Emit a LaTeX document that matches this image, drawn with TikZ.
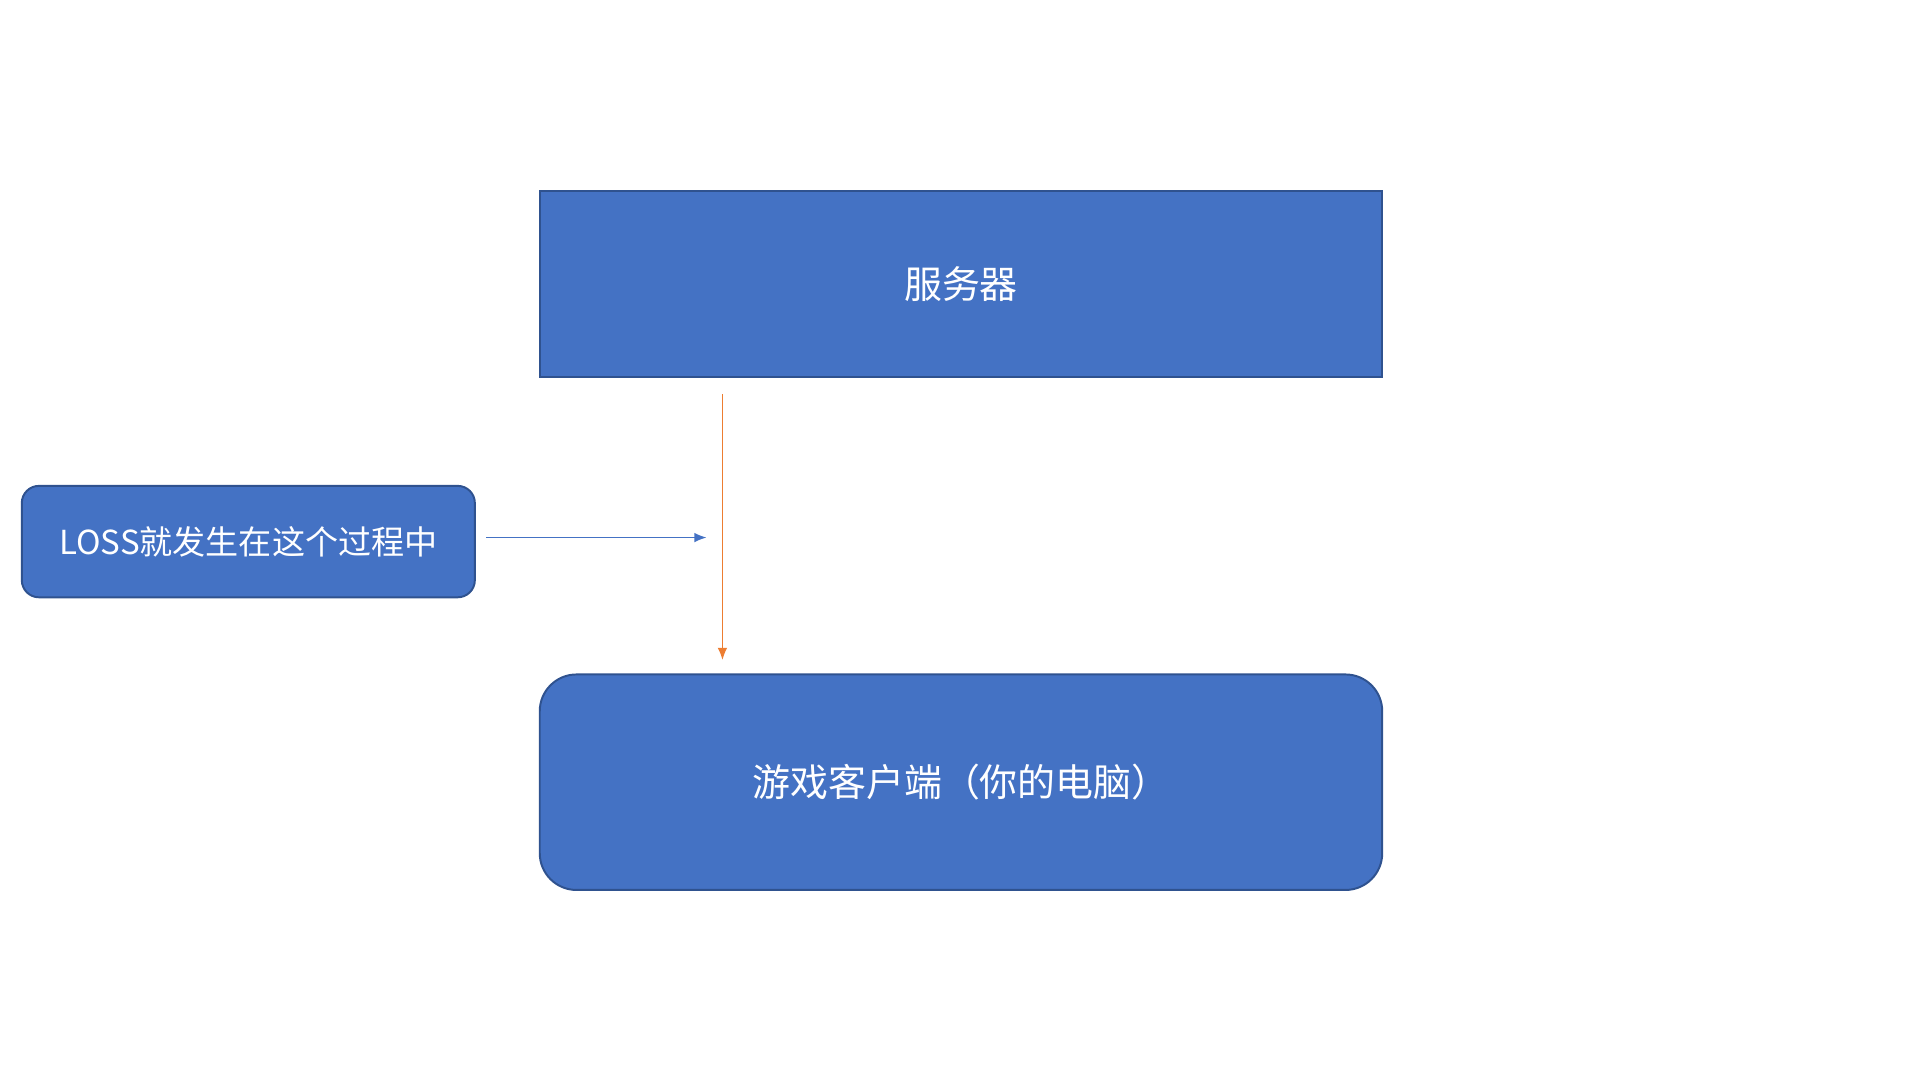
\documentclass[tikz,border=0pt]{standalone}
\usepackage{fontspec}
\setmainfont{Noto Sans CJK SC}
\definecolor{boxfill}{HTML}{4472C4}
\definecolor{boxline}{HTML}{2F528F}
\definecolor{orangeline}{HTML}{ED7D31}
\begin{document}
\begin{tikzpicture}[x=0.5pt,y=-0.5pt,
  blk/.style={draw=boxline,fill=boxfill,line width=0.8pt,text=white,inner sep=0pt,anchor=north west},
  arr/.style={-{Latex[length=5pt,width=4pt]},line width=0.6pt}]
\usetikzlibrary{arrows.meta}
\useasboundingbox (0,0) rectangle (1568,882);
\node[blk,minimum width=344pt,minimum height=76pt,font=\fontsize{15.5}{18}\selectfont] (srv) at (440,155) {服务器};
\node[blk,rounded corners=15pt,minimum width=344pt,minimum height=88pt,font=\fontsize{15.5}{18}\selectfont] (cli) at (440,550) {游戏客户端（你的电脑）};
\node[blk,rounded corners=7pt,minimum width=185pt,minimum height=45.5pt,font=\fontsize{13.5}{16}\selectfont] (loss) at (17,396) {LOSS就发生在这个过程中};
\coordinate (o1) at (590,322);
\coordinate (o2) at (590,539);
\coordinate (b1) at (397,439);
\coordinate (b2) at (577,439);
\draw[arr,draw=orangeline,fill=orangeline] (o1) -- (o2);
\draw[arr,draw=boxfill,fill=boxfill] (b1) -- (b2);
\end{tikzpicture}
\end{document}
